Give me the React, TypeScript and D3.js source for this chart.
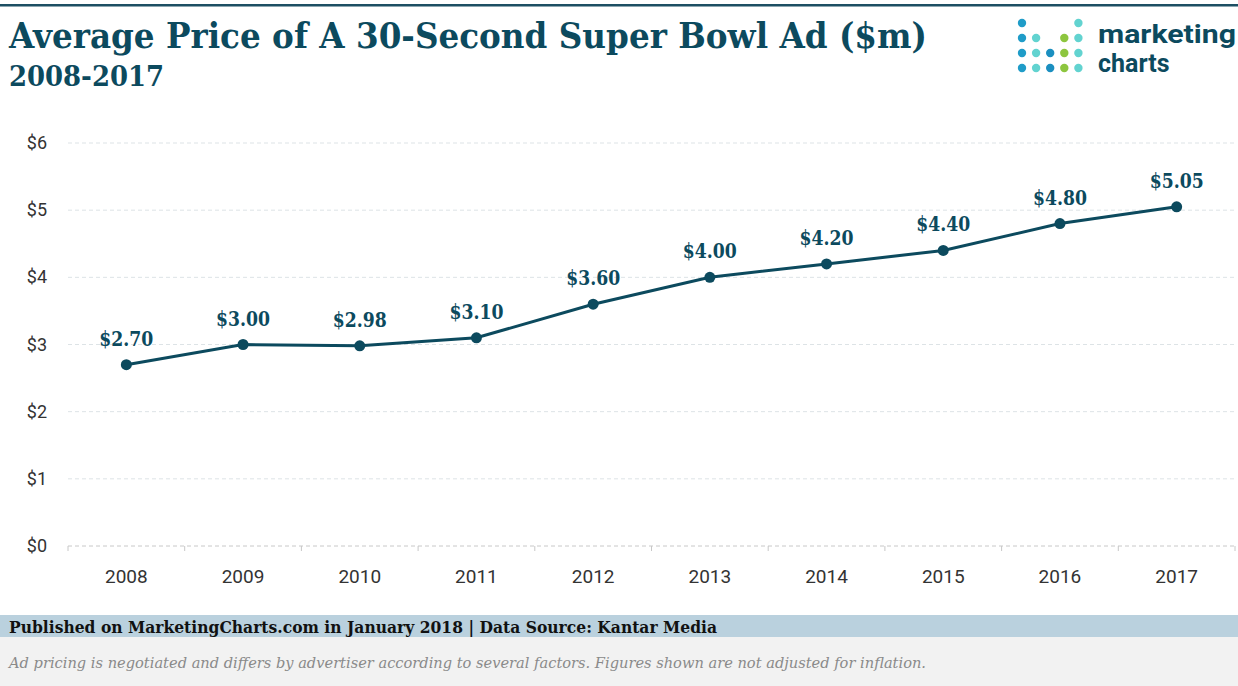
import React from "react";
import * as d3 from "d3";

const years = ["2008", "2009", "2010", "2011", "2012", "2013", "2014", "2015", "2016", "2017"];
const prices = [2.7, 3.0, 2.98, 3.1, 3.6, 4.0, 4.2, 4.4, 4.8, 5.05];
const priceLabels = ["$2.70", "$3.00", "$2.98", "$3.10", "$3.60", "$4.00", "$4.20", "$4.40", "$4.80", "$5.05"];
const yTicks = [0, 1, 2, 3, 4, 5, 6];

const title = "Average Price of A 30-Second Super Bowl Ad ($m)";
const subtitle = "2008-2017";
const sourceText = "Published on MarketingCharts.com in January 2018 | Data Source: Kantar Media";
const noteText = "Ad pricing is negotiated and differs by advertiser according to several factors. Figures shown are not adjusted for inflation.";

// logo grid: rows of column colors (null = empty)
const logoRows: (string | null)[][] = [
  ["#1f9cc8", null, null, null, "#62d3d0"],
  ["#1f9cc8", "#62d3d0", null, "#8dc63f", "#62d3d0"],
  ["#1f9cc8", "#62d3d0", "#1b8fc0", "#8dc63f", "#62d3d0"],
  ["#1f9cc8", "#62d3d0", "#1b8fc0", "#8dc63f", "#62d3d0"],
];

const W = 1238;
const H = 686;
const dark = "#0c4a5e";
const slab = "'DejaVu Serif', serif";
const sans = "Roboto, 'Noto Sans', sans-serif";

export default function App() {
  const x = d3.scaleBand<string>().domain(years).range([68, 1235]);
  const y = d3.scaleLinear().domain([0, 6]).range([546, 143]);
  const cx = (yr: string) => (x(yr) ?? 0) + x.bandwidth() / 2;
  const line = d3
    .line<number>()
    .x((_, i) => cx(years[i]))
    .y((d) => y(d));

  const edges = years.map((yr) => x(yr) ?? 0).concat([1235]);

  return (
    <svg width={W} height={H} style={{ position: "absolute", left: 0, top: 0, background: "#fff" }}>
      <rect x={0} y={0} width={W} height={H} fill="#fff" />
      <rect x={0} y={4} width={W} height={2.5} fill="#1d4f63" />
      <text x={9} y={48} fontFamily={slab} fontWeight="bold" fontSize={36} fill={dark}
        textLength={918} lengthAdjust="spacingAndGlyphs">{title}</text>
      <text x={9} y={86} fontFamily={slab} fontWeight="bold" fontSize={27} fill={dark}
        textLength={155} lengthAdjust="spacingAndGlyphs">{subtitle}</text>

      {/* logo */}
      {logoRows.map((row, ri) =>
        row.map((c, ci) =>
          c ? <circle key={`l${ri}-${ci}`} cx={1022 + ci * 14.1} cy={23 + ri * 15} r={4.2} fill={c} /> : null
        )
      )}
      <text x={1098} y={43} fontFamily={sans} fontWeight="bold" fontSize={25} fill={dark}
        textLength={138} lengthAdjust="spacingAndGlyphs">marketing</text>
      <text x={1098} y={72} fontFamily={sans} fontWeight="bold" fontSize={25} fill={dark}>charts</text>

      {/* grid */}
      {yTicks.map((t) => (
        <g key={`g${t}`}>
          <line x1={68} x2={1235} y1={y(t)} y2={y(t)} stroke={t === 0 ? "#c8c8c8" : "#dde3e6"}
            strokeWidth={1} strokeDasharray="4,3" />
          <text x={47} y={y(t) + 6} textAnchor="end" fontFamily={sans} fontSize={18} fill="#333">{`$${t}`}</text>
        </g>
      ))}
      {edges.map((e, i) => (
        <line key={`t${i}`} x1={e} x2={e} y1={y(0)} y2={y(0) + 5} stroke="#c8c8c8" strokeWidth={1} />
      ))}
      {years.map((yr) => (
        <text key={`x${yr}`} x={cx(yr)} y={583} textAnchor="middle" fontFamily={sans} fontSize={19} fill="#333">{yr}</text>
      ))}

      <path d={line(prices) ?? ""} fill="none" stroke={dark} strokeWidth={3} />
      {prices.map((p, i) => (
        <g key={`p${i}`}>
          <circle cx={cx(years[i])} cy={y(p)} r={5.5} fill={dark} />
          <text x={cx(years[i])} y={y(p) - 19} textAnchor="middle" fontFamily={slab} fontWeight="bold"
            fontSize={21} fill={dark} textLength={54} lengthAdjust="spacingAndGlyphs">{priceLabels[i]}</text>
        </g>
      ))}

      {/* footer */}
      <rect x={0} y={615} width={W} height={22} fill="#bad1de" />
      <text x={9} y={633} fontFamily={slab} fontWeight="bold" fontSize={17} fill="#111"
        textLength={708} lengthAdjust="spacingAndGlyphs">{sourceText}</text>
      <rect x={0} y={637} width={W} height={49} fill="#f2f2f2" />
      <text x={9} y={668} fontFamily={slab} fontStyle="italic" fontSize={15} fill="#8a8a8a"
        textLength={917} lengthAdjust="spacingAndGlyphs">{noteText}</text>
    </svg>
  );
}
